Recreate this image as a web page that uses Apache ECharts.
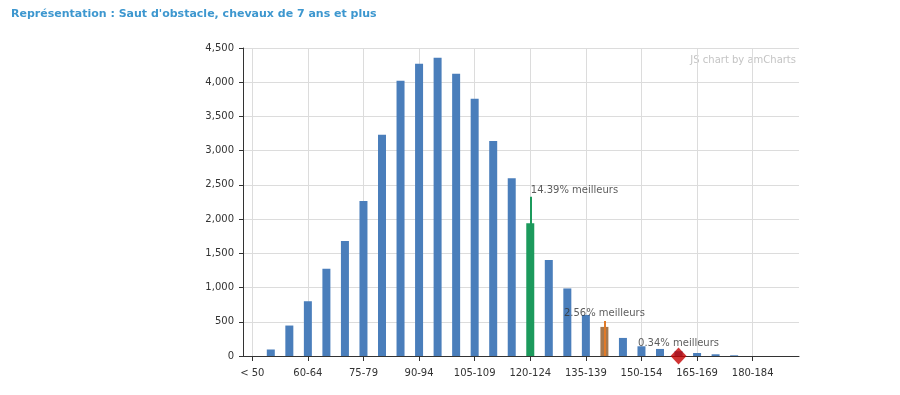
<!DOCTYPE html>
<html>
<head>
<meta charset="utf-8">
<script src="https://cdn.jsdelivr.net/npm/echarts@6/dist/echarts.min.js"></script>
<style>
html,body{margin:0;padding:0;background:#fff;}
#c{width:900px;height:395px;}
</style>
</head>
<body>
<div id="c"></div>
<script>
var categories = ['< 50','50-54','55-59','60-64','65-69','70-74','75-79','80-84','85-89','90-94','95-99','100-104','105-109','110-114','115-119','120-124','125-129','130-134','135-139','140-144','145-149','150-154','155-159','160-164','165-169','170-174','175-179','180-184','185-189','190-194'];
var counts = [0,95,445,800,1274,1679,2265,3231,4022,4270,4358,4124,3758,3143,2597,1938,1401,987,600,425,264,142,103,70,44,25,10,0,0,0];
var yTicks = [0,500,1000,1500,2000,2500,3000,3500,4000,4500];
var markers = [
  {cat:'120-124', top:2328, text:'14.39% meilleurs', labelValue:2426, color:'#1c9a5c', barColor:'#1c9a5c', align:'left'},
  {cat:'140-144', top:512, text:'2.56% meilleurs', labelValue:627, color:'#e07a28', barColor:'#a4784f', align:'center'}
];
var horsePos = {cat:'160-164', value:0, text:'0.34% meilleurs', labelValue:182};
var labelCats = categories.filter(function(c,i){return i%3===0;});

var barData = counts.map(function(v,i){
  var m = markers.filter(function(mk){return mk.cat===categories[i];})[0];
  return m ? {value:v, itemStyle:{color:m.barColor}} : v;
});

var chart = echarts.init(document.getElementById('c'));
var font = 'DejaVu Sans, Verdana, sans-serif';
chart.setOption({
  animation:false,
  textStyle:{fontFamily:font},
  title:{
    text:"Représentation : Saut d'obstacle, chevaux de 7 ans et plus",
    left:6, top:4,
    textStyle:{color:'#3d97cf', fontSize:11, fontWeight:'bold', fontFamily:font}
  },
  graphic:[{
    type:'text', right:104, top:55,
    style:{text:'JS chart by amCharts', fill:'#c4c4c4', font:'10px '+font}
  }],
  grid:{left:243, top:48, width:556, height:308, containLabel:false},
  xAxis:{
    type:'category', data:categories, boundaryGap:true,
    axisLine:{lineStyle:{color:'#333', width:1}},
    axisTick:{show:true, alignWithLabel:true, interval:2, length:5, lineStyle:{color:'#333'}},
    axisLabel:{interval:2, color:'#333', fontSize:10, margin:12, fontFamily:font},
    splitLine:{show:false}
  },
  yAxis:{
    type:'value', min:0, max:4500, interval:500,
    axisLine:{show:true, lineStyle:{color:'#333'}},
    axisTick:{show:true, length:4, lineStyle:{color:'#333'}},
    axisLabel:{color:'#333', fontSize:10, margin:9, fontFamily:font,
      formatter:function(v){return v.toLocaleString('en-US');}},
    splitLine:{lineStyle:{color:'#dcdcdc'}}
  },
  series:[
    {
      type:'line', data:[], z:0, silent:true,
      markLine:{
        silent:true, symbol:['none','none'], animation:false, z:0,
        label:{show:false},
        lineStyle:{color:'#dcdcdc', type:'solid', width:1},
        data: labelCats.map(function(c){return {xAxis:c};})
      }
    },
    {
      type:'bar', data:barData, barWidth:8, z:2,
      itemStyle:{color:'#4a7ebb'},
      markLine:{
        silent:true, symbol:['none','none'], animation:false, z:5,
        label:{show:false},
        data: markers.map(function(m){
          return [{coord:[m.cat,0], lineStyle:{color:m.color, width:2, type:'solid'}},{coord:[m.cat,m.top]}];
        })
      }
    },
    {
      type:'scatter', z:6, silent:true,
      data:[[horsePos.cat, horsePos.value]],
      symbol:'diamond', symbolSize:[16,17],
      itemStyle:{color:'#c40000'}
    },
    {
      type:'scatter', z:7, silent:true, symbolSize:1,
      itemStyle:{color:'rgba(0,0,0,0)'},
      data: markers.map(function(m){
        return {value:[m.cat, m.labelValue], label:{show:true, formatter:m.text,
          position: m.align==='left' ? 'right' : 'inside', distance:0,
          color:'#333', fontSize:10, fontFamily:font}};
      }).concat([{value:[horsePos.cat, horsePos.labelValue], label:{show:true, formatter:horsePos.text,
          position:'inside', color:'#333', fontSize:10, fontFamily:font}}])
    }
  ]
});
</script>
</body>
</html>
